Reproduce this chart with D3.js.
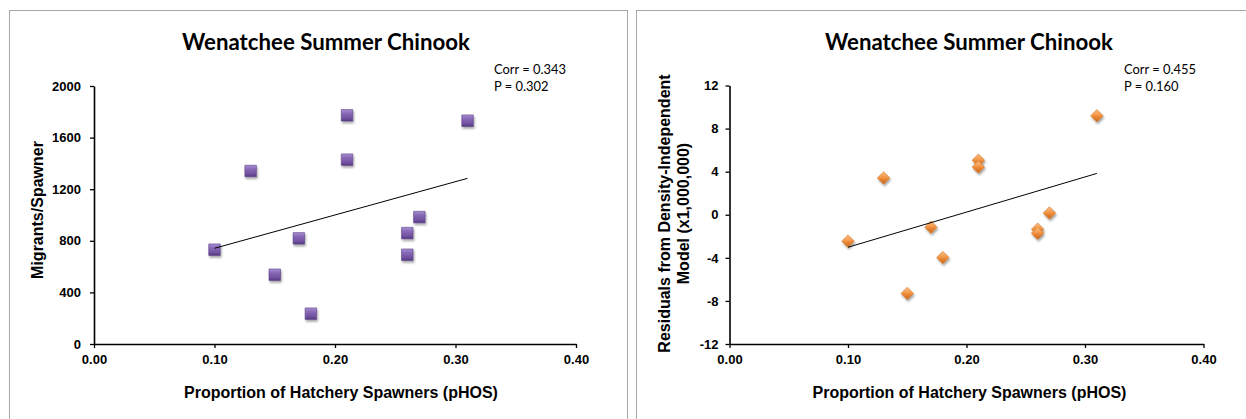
<!DOCTYPE html>
<html><head><meta charset="utf-8">
<script src="https://cdn.jsdelivr.net/npm/d3@7"></script>
<style>body{margin:0;background:#fff}svg{display:block}</style>
</head><body>
<svg id="c" width="1246" height="419"></svg>
<script>
// ---- data ----
const pHOS = [0.10, 0.13, 0.15, 0.17, 0.18, 0.21, 0.21, 0.26, 0.26, 0.27, 0.31];
const migrantsPerSpawner = [731, 1341, 537, 819, 235, 1773, 1429, 860, 692, 984, 1731];
const residuals = [-2.45, 3.42, -7.30, -1.15, -3.98, 5.06, 4.44, -1.34, -1.71, 0.16, 9.19];
const xTicks = [0, 0.1, 0.2, 0.3, 0.4];
const leftYTicks = [0, 400, 800, 1200, 1600, 2000];
const rightYTicks = [-12, -8, -4, 0, 4, 8, 12];
const chartTitle = "Wenatchee Summer Chinook";
const xTitle = "Proportion of Hatchery Spawners (pHOS)";
const leftYTitle = ["Migrants/Spawner"];
const rightYTitle = ["Residuals from Density-Independent", "Model (x1,000,000)"];
const leftStats = ["Corr = 0.343", "P = 0.302"];
const rightStats = ["Corr = 0.455", "P = 0.160"];

const svg = d3.select("#c");
const defs = svg.append("defs");
const shadow = defs.append("filter").attr("id", "sh").attr("x", "-50%").attr("y", "-50%").attr("width", "200%").attr("height", "200%");
shadow.append("feDropShadow").attr("dx", 1).attr("dy", 2).attr("stdDeviation", 1.1).attr("flood-color", "#000").attr("flood-opacity", 0.35);
function grad(id, stops) {
  const g = defs.append("linearGradient").attr("id", id).attr("x1", 0).attr("y1", 0).attr("x2", 0).attr("y2", 1);
  stops.forEach(([o, c]) => g.append("stop").attr("offset", o).attr("stop-color", c));
}
grad("gp", [[0, "#a990d4"], [0.3, "#8a6bb8"], [0.75, "#7151a0"], [1, "#553a80"]]);
grad("go", [[0, "#fbbd80"], [0.45, "#f3994c"], [0.55, "#ec8a38"], [1, "#c9681e"]]);

const CAL = "Lato, 'Open Sans', sans-serif";
const ARIAL = "'Liberation Sans', Arial, sans-serif";

function fit(sel, target) {
  const n = sel.node();
  const fs = parseFloat(sel.attr("font-size"));
  const w = n.getComputedTextLength();
  sel.attr("font-size", fs * target / w);
}

function panel(cfg) {
  const g = svg.append("g");
  // border
  g.append("rect").attr("x", cfg.border[0] + 0.5).attr("y", cfg.border[1] + 0.5)
    .attr("width", cfg.border[2]).attr("height", cfg.border[3])
    .attr("fill", "#fff").attr("stroke", "#a8a8a8").attr("stroke-width", 1);

  const x = d3.scaleLinear().domain([0, 0.4]).range(cfg.xr);
  const y = d3.scaleLinear().domain(cfg.yd).range(cfg.yr);

  const xa = g.append("g").attr("transform", `translate(0,${cfg.yr[0]})`)
    .call(d3.axisBottom(x).tickValues(xTicks).tickFormat(d3.format(".2f")).tickSizeInner(4).tickSizeOuter(0).tickPadding(7));
  const ya = g.append("g").attr("transform", `translate(${cfg.xr[0]},0)`)
    .call(d3.axisLeft(y).tickValues(cfg.yTicks).tickFormat(d => String(d)).tickSizeInner(4).tickSizeOuter(0).tickPadding(cfg.yPad));
  [xa, ya].forEach(a => {
    a.select(".domain").attr("stroke", "#000").attr("stroke-width", 1.6);
    a.selectAll(".tick line").attr("stroke", "#000").attr("stroke-width", 1.3);
    a.selectAll("text").attr("font-family", ARIAL).attr("font-weight", "bold").attr("font-size", 13).attr("fill", "#000");
  });

  // markers
  const pts = pHOS.map((v, i) => [v, cfg.values[i]]);
  const s = cfg.size / 2;
  g.append("g").selectAll("path").data(pts).join("path")
    .attr("transform", d => `translate(${x(d[0])},${y(d[1])})`)
    .attr("d", cfg.shape === "square"
      ? `M${-s},${-s}H${s}V${s}H${-s}Z`
      : `M0,${-s}L${s},0L0,${s}L${-s},0Z`)
    .attr("fill", cfg.shape === "square" ? "url(#gp)" : "url(#go)")
    .attr("stroke", cfg.shape === "square" ? "#5b4287" : "#d27a2c")
    .attr("stroke-width", 0.6)
    .attr("filter", "url(#sh)");

  // linear trendline (least squares)
  const mx = d3.mean(pHOS), my = d3.mean(cfg.values);
  const sxy = d3.sum(pHOS, (v, i) => (v - mx) * (cfg.values[i] - my));
  const sxx = d3.sum(pHOS, v => (v - mx) * (v - mx));
  const b = sxy / sxx, a0 = my - b * mx;
  const ext = d3.extent(pHOS);
  g.append("path").datum(ext.map(v => [v, a0 + b * v]))
    .attr("d", d3.line().x(d => x(d[0])).y(d => y(d[1])))
    .attr("stroke", "#000").attr("stroke-width", 1).attr("fill", "none");

  // title
  const t = g.append("text").attr("x", cfg.titleX).attr("y", 50).attr("text-anchor", "middle")
    .attr("font-family", CAL).attr("font-weight", "bold").attr("font-size", 22).attr("fill", "#000").text(chartTitle);
  fit(t, 288);

  // stats
  let statFs = null;
  cfg.stats.forEach((txt, i) => {
    const st = g.append("text").attr("x", cfg.statsX).attr("y", 74 + i * 17)
      .attr("font-family", CAL).attr("font-size", 13.5).attr("fill", "#000").text(txt);
    if (i === 0) { fit(st, 72); statFs = st.attr("font-size"); }
    else st.attr("font-size", statFs);
  });

  // x title
  g.append("text").attr("x", cfg.xTitleX).attr("y", 398).attr("text-anchor", "middle")
    .attr("font-family", ARIAL).attr("font-weight", "bold").attr("font-size", 16).attr("fill", "#000").text(xTitle);

  // y title
  cfg.yTitle.forEach((txt, i) => {
    g.append("text").attr("transform", `translate(${cfg.yTitleX[i]},${cfg.yTitleY}) rotate(-90)`)
      .attr("text-anchor", "middle")
      .attr("font-family", ARIAL).attr("font-weight", "bold").attr("font-size", 16).attr("fill", "#000").text(txt);
  });
}

panel({
  border: [9, 10, 618, 420],
  xr: [94, 576], yr: [344, 86], yd: [0, 2000], yTicks: leftYTicks, yPad: 9,
  values: migrantsPerSpawner, shape: "square", size: 11.5,
  titleX: 326, statsX: 494, stats: leftStats, xTitleX: 341,
  yTitle: leftYTitle, yTitleX: [42.5], yTitleY: 210
});
panel({
  border: [636, 10, 620, 420],
  xr: [729.5, 1203.5], yr: [344, 85.5], yd: [-12, 12], yTicks: rightYTicks, yPad: 7,
  values: residuals, shape: "diamond", size: 12.5,
  titleX: 969, statsX: 1124, stats: rightStats, xTitleX: 969.5,
  yTitle: rightYTitle, yTitleX: [669.5, 689], yTitleY: 213.5
});
</script>
</body></html>
